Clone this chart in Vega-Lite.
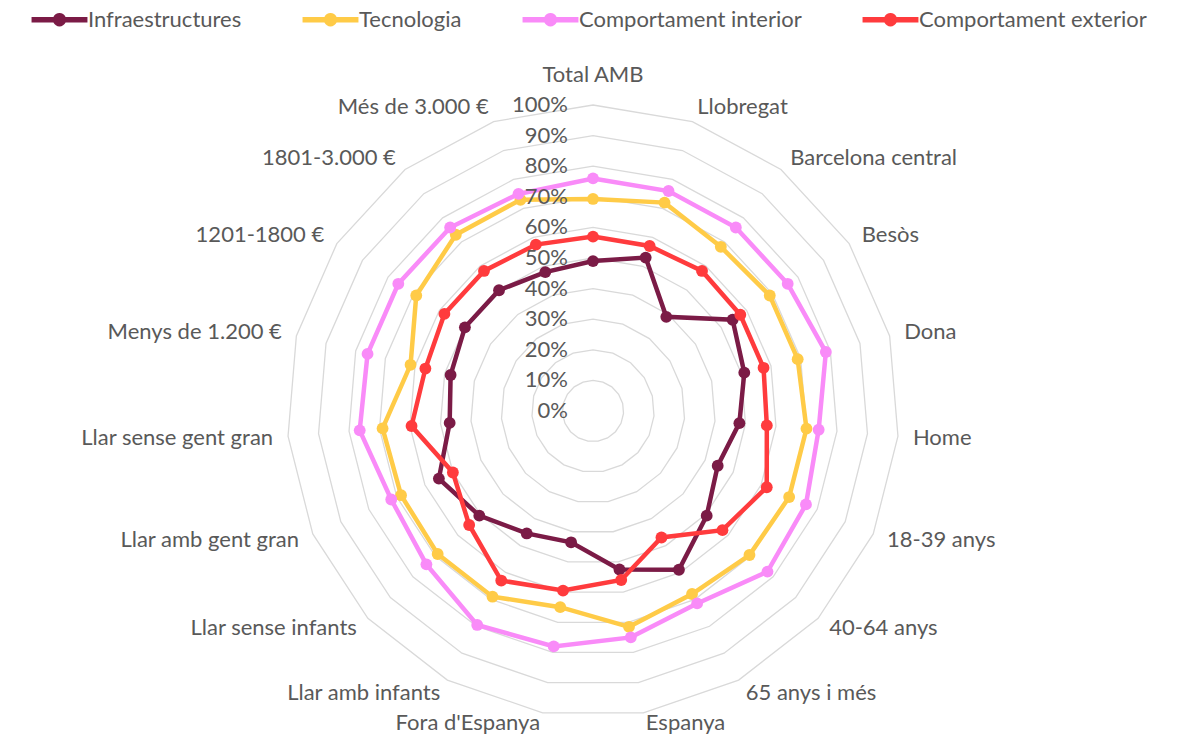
{
  "$schema": "https://vega.github.io/schema/vega-lite/v6.json",
  "width": 1181,
  "height": 737,
  "autosize": {"type": "none"},
  "padding": 0,
  "background": "white",
  "config": {"view": {"stroke": null}, "font": "Lato"},
  "datasets": {
    "cats": [
      {"cat": "Total AMB", "i": 0, "Infraestructures": 49, "Tecnologia": 69.3, "Comportament interior": 76, "Comportament exterior": 57},
      {"cat": "Llobregat", "i": 1, "Infraestructures": 53, "Tecnologia": 72, "Comportament interior": 76, "Comportament exterior": 57},
      {"cat": "Barcelona central", "i": 2, "Infraestructures": 39, "Tecnologia": 68, "Comportament interior": 76, "Comportament exterior": 58},
      {"cat": "Besòs", "i": 3, "Infraestructures": 54.5, "Tecnologia": 69, "Comportament interior": 76, "Comportament exterior": 57.5},
      {"cat": "Dona", "i": 4, "Infraestructures": 51, "Tecnologia": 69, "Comportament interior": 78.5, "Comportament exterior": 57.5},
      {"cat": "Home", "i": 5, "Infraestructures": 48, "Tecnologia": 70, "Comportament interior": 74, "Comportament exterior": 57},
      {"cat": "18-39 anys", "i": 6, "Infraestructures": 44.5, "Tecnologia": 70, "Comportament interior": 76, "Comportament exterior": 62},
      {"cat": "40-64 anys", "i": 7, "Infraestructures": 50.5, "Tecnologia": 69.5, "Comportament interior": 77.5, "Comportament exterior": 57.5},
      {"cat": "65 anys i més", "i": 8, "Infraestructures": 59, "Tecnologia": 68, "Comportament interior": 71.5, "Comportament exterior": 47},
      {"cat": "Espanya", "i": 9, "Infraestructures": 52.5, "Tecnologia": 71.5, "Comportament interior": 75, "Comportament exterior": 56},
      {"cat": "Fora d'Espanya", "i": 10, "Infraestructures": 43.5, "Tecnologia": 65, "Comportament interior": 78, "Comportament exterior": 59.5},
      {"cat": "Llar amb infants", "i": 11, "Infraestructures": 45.5, "Tecnologia": 69, "Comportament interior": 79.5, "Comportament exterior": 63},
      {"cat": "Llar sense infants", "i": 12, "Infraestructures": 50.5, "Tecnologia": 69, "Comportament interior": 74, "Comportament exterior": 55},
      {"cat": "Llar amb gent gran", "i": 13, "Infraestructures": 55, "Tecnologia": 68.5, "Comportament interior": 72, "Comportament exterior": 50},
      {"cat": "Llar sense gent gran", "i": 14, "Infraestructures": 47, "Tecnologia": 69, "Comportament interior": 76.5, "Comportament exterior": 59.5},
      {"cat": "Menys de 1.200 €", "i": 15, "Infraestructures": 48, "Tecnologia": 61.5, "Comportament interior": 76, "Comportament exterior": 56.5},
      {"cat": "1201-1800 €", "i": 16, "Infraestructures": 50, "Tecnologia": 69, "Comportament interior": 76, "Comportament exterior": 58},
      {"cat": "1801-3.000 €", "i": 17, "Infraestructures": 50, "Tecnologia": 73, "Comportament interior": 76, "Comportament exterior": 58},
      {"cat": "Més de 3.000 €", "i": 18, "Infraestructures": 48, "Tecnologia": 73, "Comportament interior": 75, "Comportament exterior": 57.5}
    ],
    "rings": [
      {"t": 10, "i": [0,1,2,3,4,5,6,7,8,9,10,11,12,13,14,15,16,17,18]},
      {"t": 20, "i": [0,1,2,3,4,5,6,7,8,9,10,11,12,13,14,15,16,17,18]},
      {"t": 30, "i": [0,1,2,3,4,5,6,7,8,9,10,11,12,13,14,15,16,17,18]},
      {"t": 40, "i": [0,1,2,3,4,5,6,7,8,9,10,11,12,13,14,15,16,17,18]},
      {"t": 50, "i": [0,1,2,3,4,5,6,7,8,9,10,11,12,13,14,15,16,17,18]},
      {"t": 60, "i": [0,1,2,3,4,5,6,7,8,9,10,11,12,13,14,15,16,17,18]},
      {"t": 70, "i": [0,1,2,3,4,5,6,7,8,9,10,11,12,13,14,15,16,17,18]},
      {"t": 80, "i": [0,1,2,3,4,5,6,7,8,9,10,11,12,13,14,15,16,17,18]},
      {"t": 90, "i": [0,1,2,3,4,5,6,7,8,9,10,11,12,13,14,15,16,17,18]},
      {"t": 100, "i": [0,1,2,3,4,5,6,7,8,9,10,11,12,13,14,15,16,17,18]}
    ],
    "ticks": [
      {"t": 0}, {"t": 10}, {"t": 20}, {"t": 30}, {"t": 40}, {"t": 50},
      {"t": 60}, {"t": 70}, {"t": 80}, {"t": 90}, {"t": 100}
    ]
  },
  "layer": [
    {
      "data": {"name": "rings"},
      "transform": [
        {"flatten": ["i"]},
        {"calculate": "datum.i * 2 * PI / 19", "as": "a"},
        {"calculate": "datum.t * 3.06 * sin(datum.a)", "as": "px"},
        {"calculate": "datum.t * 3.06 * cos(datum.a)", "as": "py"}
      ],
      "mark": {"type": "line", "interpolate": "linear-closed", "color": "#d9d9d9", "strokeWidth": 1.3},
      "encoding": {
        "x": {"field": "px", "type": "quantitative", "scale": {"domain": [-593, 588], "nice": false, "zero": false}, "axis": null},
        "y": {"field": "py", "type": "quantitative", "scale": {"domain": [-326, 411], "nice": false, "zero": false}, "axis": null},
        "detail": {"field": "t", "type": "nominal"},
        "order": {"field": "i", "type": "quantitative"}
      }
    },
    {
      "data": {"name": "cats"},
      "transform": [
        {"filter": "datum.i >= 1 && datum.i <= 8"},
        {"calculate": "datum.i * 2 * PI / 19", "as": "a"},
        {"calculate": "321 * sin(datum.a)", "as": "px"},
        {"calculate": "321 * cos(datum.a)", "as": "py"}
      ],
      "mark": {"type": "text", "align": "left", "baseline": "middle", "fontSize": 22, "color": "#595959", "font": "Lato"},
      "encoding": {
        "x": {"field": "px", "type": "quantitative", "scale": {"domain": [-593, 588], "nice": false, "zero": false}, "axis": null},
        "y": {"field": "py", "type": "quantitative", "scale": {"domain": [-326, 411], "nice": false, "zero": false}, "axis": null},
        "text": {"field": "cat", "type": "nominal"}
      }
    },
    {
      "data": {"name": "cats"},
      "transform": [
        {"filter": "datum.i == 9"},
        {"calculate": "datum.i * 2 * PI / 19", "as": "a"},
        {"calculate": "321 * sin(datum.a)", "as": "px"},
        {"calculate": "321 * cos(datum.a)", "as": "py"}
      ],
      "mark": {"type": "text", "align": "left", "baseline": "middle", "fontSize": 22, "color": "#595959", "font": "Lato", "dy": -5},
      "encoding": {
        "x": {"field": "px", "type": "quantitative", "scale": {"domain": [-593, 588], "nice": false, "zero": false}, "axis": null},
        "y": {"field": "py", "type": "quantitative", "scale": {"domain": [-326, 411], "nice": false, "zero": false}, "axis": null},
        "text": {"field": "cat", "type": "nominal"}
      }
    },
    {
      "data": {"name": "cats"},
      "transform": [
        {"filter": "datum.i == 10"},
        {"calculate": "datum.i * 2 * PI / 19", "as": "a"},
        {"calculate": "321 * sin(datum.a)", "as": "px"},
        {"calculate": "321 * cos(datum.a)", "as": "py"}
      ],
      "mark": {"type": "text", "align": "right", "baseline": "middle", "fontSize": 22, "color": "#595959", "font": "Lato", "dy": -5},
      "encoding": {
        "x": {"field": "px", "type": "quantitative", "scale": {"domain": [-593, 588], "nice": false, "zero": false}, "axis": null},
        "y": {"field": "py", "type": "quantitative", "scale": {"domain": [-326, 411], "nice": false, "zero": false}, "axis": null},
        "text": {"field": "cat", "type": "nominal"}
      }
    },
    {
      "data": {"name": "cats"},
      "transform": [
        {"filter": "datum.i >= 11"},
        {"calculate": "datum.i * 2 * PI / 19", "as": "a"},
        {"calculate": "321 * sin(datum.a)", "as": "px"},
        {"calculate": "321 * cos(datum.a)", "as": "py"}
      ],
      "mark": {"type": "text", "align": "right", "baseline": "middle", "fontSize": 22, "color": "#595959", "font": "Lato"},
      "encoding": {
        "x": {"field": "px", "type": "quantitative", "scale": {"domain": [-593, 588], "nice": false, "zero": false}, "axis": null},
        "y": {"field": "py", "type": "quantitative", "scale": {"domain": [-326, 411], "nice": false, "zero": false}, "axis": null},
        "text": {"field": "cat", "type": "nominal"}
      }
    },
    {
      "data": {"name": "cats"},
      "transform": [
        {"filter": "datum.i == 0"},
        {"calculate": "0", "as": "px"},
        {"calculate": "322", "as": "py"}
      ],
      "mark": {"type": "text", "align": "center", "baseline": "bottom", "fontSize": 22, "color": "#595959", "font": "Lato", "dy": -2},
      "encoding": {
        "x": {"field": "px", "type": "quantitative", "scale": {"domain": [-593, 588], "nice": false, "zero": false}, "axis": null},
        "y": {"field": "py", "type": "quantitative", "scale": {"domain": [-326, 411], "nice": false, "zero": false}, "axis": null},
        "text": {"field": "cat", "type": "nominal"}
      }
    },
    {
      "data": {"name": "cats"},
      "transform": [
        {"fold": ["Infraestructures", "Tecnologia", "Comportament interior", "Comportament exterior"], "as": ["s", "v"]},
        {"calculate": "datum.i * 2 * PI / 19", "as": "a"},
        {"calculate": "datum.v * 3.06 * sin(datum.a)", "as": "px"},
        {"calculate": "datum.v * 3.06 * cos(datum.a)", "as": "py"}
      ],
      "mark": {"type": "line", "interpolate": "linear-closed", "strokeWidth": 4.5, "point": {"filled": true, "size": 140, "opacity": 1}},
      "encoding": {
        "x": {"field": "px", "type": "quantitative", "scale": {"domain": [-593, 588], "nice": false, "zero": false}, "axis": null},
        "y": {"field": "py", "type": "quantitative", "scale": {"domain": [-326, 411], "nice": false, "zero": false}, "axis": null},
        "order": {"field": "i", "type": "quantitative"},
        "color": {
          "field": "s",
          "type": "nominal",
          "scale": {
            "domain": ["Infraestructures", "Tecnologia", "Comportament interior", "Comportament exterior"],
            "range": ["#7B1B46", "#FFCB47", "#F98BF8", "#FF3B3D"]
          },
          "legend": {
            "orient": "none",
            "legendX": 48,
            "legendY": 8,
            "direction": "horizontal",
            "title": null,
            "padding": 0,
            "symbolType": "M-2.5,-0.25H-0.545A0.6,0.6,0,0,1,0.545,-0.25H2.5V0.25H0.545A0.6,0.6,0,0,1,-0.545,0.25H-2.5Z",
            "symbolSize": 500,
            "symbolStrokeWidth": 0,
            "labelFont": "Lato",
            "labelFontSize": 22,
            "labelColor": "#595959",
            "labelOffset": 17,
            "labelLimit": 400,
            "columnPadding": 60,
            "encode": {
              "symbols": {
                "update": {
                  "fill": {"scale": "color", "field": "value"},
                  "stroke": {"value": "transparent"},
                  "opacity": {"value": 1}
                }
              }
            }
          }
        }
      }
    },
    {
      "data": {"name": "ticks"},
      "transform": [
        {"calculate": "datum.t + '%'", "as": "lab"},
        {"calculate": "0", "as": "px"},
        {"calculate": "datum.t * 3.06", "as": "py"}
      ],
      "mark": {"type": "text", "align": "right", "baseline": "middle", "fontSize": 22, "color": "#595959", "font": "Lato", "dx": -25},
      "encoding": {
        "x": {"field": "px", "type": "quantitative", "scale": {"domain": [-593, 588], "nice": false, "zero": false}, "axis": null},
        "y": {"field": "py", "type": "quantitative", "scale": {"domain": [-326, 411], "nice": false, "zero": false}, "axis": null},
        "text": {"field": "lab", "type": "nominal"}
      }
    }
  ]
}
